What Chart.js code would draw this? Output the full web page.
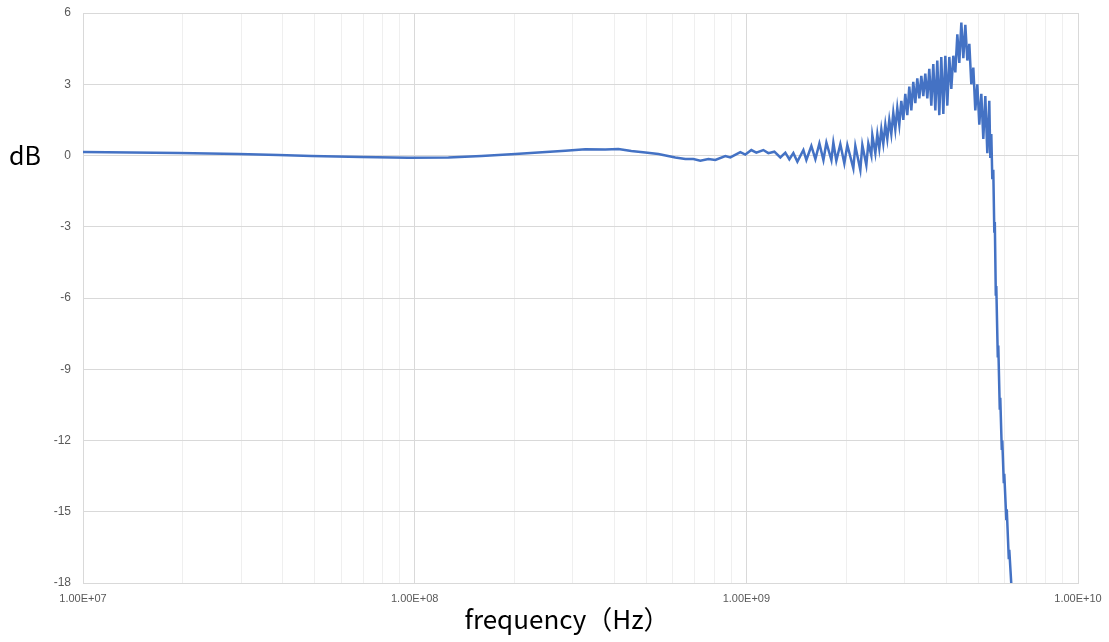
<!DOCTYPE html>
<html>
<head>
<meta charset="utf-8">
<script src="https://cdn.jsdelivr.net/npm/chart.js@4/dist/chart.umd.min.js"></script>
<style>
  html, body { margin: 0; padding: 0; background: #fff; }
  #wrap { width: 1109px; height: 642px; position: relative; }
</style>
</head>
<body>
<div id="wrap"><canvas id="gainChart"></canvas></div>
<script>
// frequency points in GHz
const freqGHz = [
  0.01, 0.01939, 0.02941, 0.03883, 0.04884, 0.06909, 0.09573, 0.1264, 0.1589, 0.2012,
  0.2360, 0.2847, 0.3271, 0.3758, 0.4113, 0.4499, 0.4960, 0.5429, 0.6108, 0.6548,
  0.6922, 0.7265, 0.7682, 0.8064, 0.8642, 0.8949, 0.9592,
  0.9931, 1.0353, 1.0718, 1.1253, 1.1651, 1.2147, 1.2664, 1.3110, 1.3480, 1.3862,
  1.4253, 1.4860, 1.5171, 1.5706, 1.6150, 1.6607, 1.7077, 1.7435, 1.8050, 1.8296,
  1.8678, 1.9204, 1.9745, 2.0161, 2.1019, 2.1313, 2.2066, 2.2374, 2.3003, 2.3324,
  2.3815, 2.3981,
  2.449, 2.483, 2.517, 2.553, 2.588, 2.625, 2.661, 2.698, 2.736, 2.774,
  2.813, 2.852, 2.892, 2.933, 2.974, 3.015, 3.057, 3.100, 3.144, 3.187,
  3.232, 3.277, 3.323, 3.370, 3.417, 3.464, 3.513, 3.562, 3.612, 3.662,
  3.714, 3.765, 3.818, 3.871, 3.926, 3.981, 4.036, 4.093, 4.150, 4.208,
  4.267, 4.327, 4.387, 4.449, 4.511, 4.574, 4.638, 4.703, 4.768, 4.835,
  4.902, 4.971, 5.040, 5.111, 5.182, 5.255, 5.328, 5.402,
  5.440, 5.478, 5.516, 5.554, 5.593, 5.613, 5.652, 5.671, 5.730, 5.750,
  5.810, 5.830, 5.891, 5.912, 5.974, 5.994, 6.078, 6.099, 6.185, 6.206, 6.315
];

// gain in dB at each frequency
const gainDb = [
  0.15, 0.11, 0.06, 0.02, -0.02, -0.06, -0.09, -0.08, -0.02, 0.06,
  0.13, 0.20, 0.26, 0.25, 0.27, 0.19, 0.13, 0.06, -0.08, -0.15,
  -0.15, -0.22, -0.15, -0.19, -0.02, -0.08, 0.14,
  0.04, 0.23, 0.12, 0.23, 0.10, 0.16, -0.08, 0.12, -0.16, 0.10,
  -0.26, 0.23, -0.19, 0.40, -0.15, 0.51, -0.19, 0.54, -0.19, 0.54,
  -0.22, 0.48, -0.33, 0.44, -0.54, 0.40, -0.61, 0.44, -0.40, 0.51,
  0.00, 0.86,
  0.1, 0.9, 0.3, 1.1, 0.5, 1.3, 0.7, 1.5, 0.9, 1.8,
  1.1, 2.0, 1.3, 2.3, 1.5, 2.6, 1.7, 2.9, 1.9, 3.1,
  2.2, 3.25, 2.4, 3.35, 2.5, 3.45, 2.4, 3.65, 2.1, 3.85,
  1.9, 4.0, 1.7, 4.15, 1.75, 4.2, 2.1, 4.15, 2.8, 4.2,
  3.5, 5.1, 3.9, 5.6, 4.1, 5.5, 4.0, 4.7, 3.0, 3.7,
  1.9, 3.0, 1.3, 2.6, 0.7, 2.5, 0.1, 2.3,
  -0.1, 0.9, -1.0, -0.6, -3.2, -2.8, -5.9, -5.5, -8.5, -8.0,
  -10.7, -10.2, -12.4, -12.0, -13.8, -13.4, -15.3, -14.9, -17.0, -16.6, -18.4
];

const xTickLabels = ['1.00E+07', '1.00E+08', '1.00E+09', '1.00E+10'];
const decadeExps = [7, 8, 9, 10];
const yTicks = [6, 3, 0, -3, -6, -9, -12, -15, -18];

const points = freqGHz.map((f, i) => ({ x: f * 1e9, y: gainDb[i] }));

function isDecade(v) {
  const e = Math.round(Math.log10(v));
  return Math.abs(v - Math.pow(10, e)) < 1e-3 * v;
}

// horizontal "dB" and the x title, drawn as in the original sheet
const titlesPlugin = {
  id: 'titles',
  afterDraw(chart) {
    const ctx = chart.ctx;
    const yScale = chart.scales.y;
    ctx.save();
    ctx.fillStyle = '#000';
    ctx.textBaseline = 'middle';
    ctx.font = '25px "Noto Sans CJK SC", "Noto Sans", sans-serif';
    ctx.textAlign = 'left';
    ctx.fillText('dB', 9, yScale.getPixelForValue(0));
    ctx.font = '26px "Noto Sans CJK SC", "Noto Sans", sans-serif';
    ctx.textAlign = 'center';
    ctx.fillText('frequency（Hz）', 567, 619);
    ctx.restore();
  }
};

new Chart(document.getElementById('gainChart'), {
  type: 'line',
  data: {
    datasets: [{
      data: points,
      borderColor: '#4472C4',
      borderWidth: 2.5,
      pointRadius: 0,
      tension: 0,
      fill: false
    }]
  },
  options: {
    responsive: true,
    maintainAspectRatio: false,
    animation: false,
    layout: { padding: { top: 13, right: 31, left: 0, bottom: 0 } },
    plugins: {
      legend: { display: false },
      tooltip: { enabled: false }
    },
    scales: {
      x: {
        type: 'logarithmic',
        min: 1e7,
        max: 1e10,
        afterFit: (scale) => {
          scale.height = 59;
          scale.paddingLeft = 0;
          scale.paddingRight = 0;
        },
        afterBuildTicks: (scale) => {
          const ticks = [];
          decadeExps.forEach(e => {
            if (e === 10) { ticks.push({ value: 1e10 }); return; }
            for (let m = 1; m <= 9; m++) ticks.push({ value: m * Math.pow(10, e) });
          });
          scale.ticks = ticks;
        },
        ticks: {
          autoSkip: false,
          maxRotation: 0,
          padding: 9,
          color: '#595959',
          font: { family: '"Liberation Sans", Arial, sans-serif', size: 11 },
          callback: (v) => {
            if (!isDecade(v)) return '';
            const idx = decadeExps.indexOf(Math.round(Math.log10(v)));
            return xTickLabels[idx];
          }
        },
        grid: {
          drawTicks: false,
          color: (ctx) => (ctx.tick && isDecade(ctx.tick.value)) ? '#d9d9d9' : '#efefef',
          lineWidth: 1
        },
        border: { color: '#d9d9d9' }
      },
      y: {
        min: -18,
        max: 6,
        afterFit: (scale) => {
          scale.width = 83;
          scale.paddingTop = 0;
          scale.paddingBottom = 0;
        },
        afterBuildTicks: (scale) => {
          scale.ticks = yTicks.map(v => ({ value: v }));
        },
        ticks: {
          padding: 12,
          color: '#595959',
          font: { family: '"Liberation Sans", Arial, sans-serif', size: 12 }
        },
        grid: { drawTicks: false, color: '#d9d9d9', lineWidth: 1 },
        border: { color: '#d9d9d9' }
      }
    }
  },
  plugins: [titlesPlugin]
});
</script>
</body>
</html>
